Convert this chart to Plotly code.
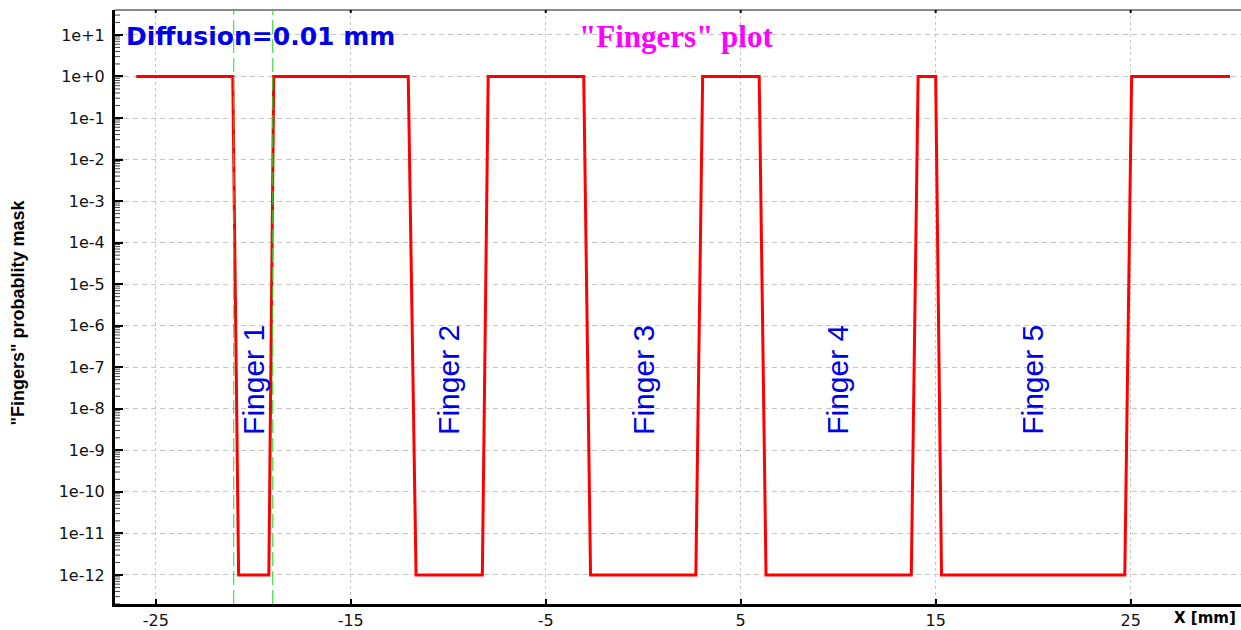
import math
import plotly.graph_objects as go

# Probability mask along X: 1 outside the fingers, floor of 1e-12 inside
mask_x = [-26.0,
          -21.05, -20.75, -19.2, -18.95,
          -12.05, -11.65, -8.25, -7.95,
          -3.05, -2.7, 2.7, 3.05,
          5.95, 6.3, 13.75, 14.1,
          15.0, 15.3, 24.7, 25.05,
          30.1]
mask_y = [1.0,
          1.0, 1e-12, 1e-12, 1.0,
          1.0, 1e-12, 1e-12, 1.0,
          1.0, 1e-12, 1e-12, 1.0,
          1.0, 1e-12, 1e-12, 1.0,
          1.0, 1e-12, 1e-12, 1.0,
          1.0]

finger_names = ["Finger 1", "Finger 2", "Finger 3", "Finger 4", "Finger 5"]
finger_centers = [-20, -10, 0, 10, 20]
finger_label_log_y = -7.3

# Highlighted finger boundaries
marker_lines_x = [-21, -19]

x_tick_vals = [-25, -15, -5, 5, 15, 25]
x_tick_text = ["-25", "-15", "-5", "5", "15", "25"]
y_decades = list(range(1, -13, -1))
y_tick_vals = [10.0 ** e for e in y_decades]
y_tick_text = ["1e+1", "1e+0", "1e-1", "1e-2", "1e-3", "1e-4", "1e-5", "1e-6",
               "1e-7", "1e-8", "1e-9", "1e-10", "1e-11", "1e-12"]

Y_LOG_RANGE = [-12.70, 1.60]
PLOT_W = 1241 - 115
PLOT_H = 630 - 10 - 24

SANS = "DejaVu Sans"
ARIAL = "Liberation Sans, Arial"
GRID = "#c6c6c6"

fig = go.Figure()

fig.add_trace(go.Scatter(
    x=mask_x, y=mask_y, mode="lines",
    line=dict(color="#ff0000", width=3),
    hoverinfo="skip", showlegend=False,
))

for xv in marker_lines_x:
    fig.add_shape(type="line", xref="x", yref="paper", x0=xv, x1=xv, y0=0, y1=1,
                  line=dict(color="#1ee01e", width=1, dash="14px,5px"), layer="above")

# thin grey frame line along the top of the plot area
fig.add_shape(type="line", xref="paper", yref="paper", x0=0, x1=1, y0=1, y1=1,
              line=dict(color="#8a8a8a", width=2), layer="above")

# inward tick marks on the log axis: major at each decade, minor at 2..9
for e in range(-13, 2):
    if Y_LOG_RANGE[0] <= e <= Y_LOG_RANGE[1]:
        fig.add_shape(type="line", xref="paper", yref="y", x0=0, x1=8 / PLOT_W,
                      y0=10.0 ** e, y1=10.0 ** e,
                      line=dict(color="black", width=1.5), layer="above")
    for m in range(2, 10):
        lv = e + math.log10(m)
        if Y_LOG_RANGE[0] <= lv <= Y_LOG_RANGE[1]:
            fig.add_shape(type="line", xref="paper", yref="y", x0=0, x1=5 / PLOT_W,
                          y0=m * 10.0 ** e, y1=m * 10.0 ** e,
                          line=dict(color="#444444", width=1), layer="above")

# inward tick marks on the bottom axis and the top frame
for xv in x_tick_vals:
    fig.add_shape(type="line", xref="x", yref="paper", x0=xv, x1=xv,
                  y0=0, y1=5 / PLOT_H, line=dict(color="black", width=1.5), layer="above")
    fig.add_shape(type="line", xref="x", yref="paper", x0=xv, x1=xv,
                  y0=1, y1=1 - 3 / PLOT_H, line=dict(color="black", width=2), layer="above")

annotations = [
    dict(text="<b>Diffusion=0.01 mm</b>", xref="paper", yref="paper",
         x=0.008, y=0.956, xanchor="left", yanchor="middle", showarrow=False,
         font=dict(family=SANS, size=25, color="#0000e6")),
    dict(text="<b>\"Fingers\" plot</b>", xref="paper", yref="paper",
         x=0.498, y=0.955, xanchor="center", yanchor="middle", showarrow=False,
         font=dict(family="Liberation Serif, Times New Roman", size=31, color="#ff00ff")),
    dict(text="<b>\"Fingers\" probablity mask</b>", xref="paper", yref="paper",
         x=-0.0865, y=0.49, xanchor="center", yanchor="middle", showarrow=False,
         textangle=-90, font=dict(family=ARIAL, size=18, color="#000000")),
    dict(text="<b>X [mm]</b>", xref="paper", yref="paper",
         x=0.9975, y=-0.024, xanchor="right", yanchor="middle", showarrow=False,
         font=dict(family=SANS, size=15, color="#000000")),
]
for name, cx in zip(finger_names, finger_centers):
    annotations.append(dict(
        text=name, xref="x", yref="y", x=cx, y=finger_label_log_y,
        xanchor="center", yanchor="middle", showarrow=False, textangle=-90,
        font=dict(family=ARIAL, size=30, color="#0000e6"),
    ))

fig.update_layout(
    width=1241, height=630,
    margin=dict(l=115, r=0, t=10, b=24),
    paper_bgcolor="white", plot_bgcolor="white",
    showlegend=False,
    annotations=annotations,
    xaxis=dict(
        range=[-27.09, 30.66], tickmode="array", tickvals=x_tick_vals, ticktext=x_tick_text,
        showline=True, linecolor="black", linewidth=3,
        ticks="inside", ticklen=5, tickcolor="black", tickwidth=2,
        showgrid=True, gridcolor=GRID, griddash="3px,3px", gridwidth=1,
        zeroline=False,
        tickfont=dict(family=SANS, size=16, color="#111111"),
    ),
    yaxis=dict(
        type="log", range=Y_LOG_RANGE,
        tickmode="array", tickvals=y_tick_vals, ticktext=y_tick_text,
        showline=True, linecolor="black", linewidth=3,
        ticks="inside", ticklen=8, tickcolor="black", tickwidth=1.5,
        showgrid=True, gridcolor=GRID, griddash="5px,4px", gridwidth=1,
        zeroline=False, ticklabelstandoff=4,
        tickfont=dict(family=SANS, size=16, color="#111111"),
    ),
)

fig.write_html("out.html")
